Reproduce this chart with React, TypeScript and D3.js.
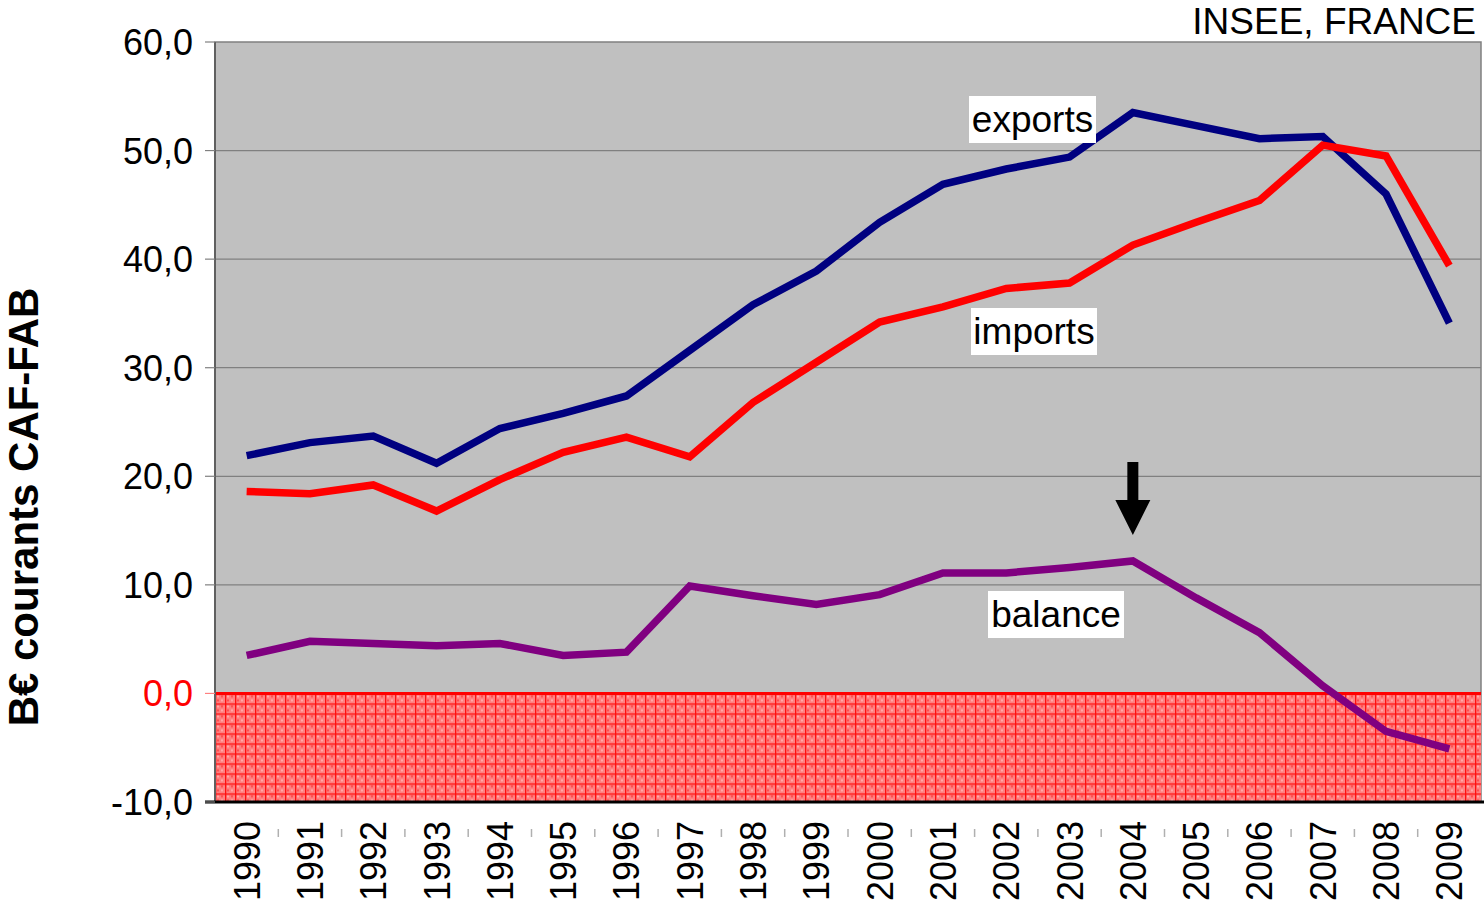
import React from "react";
import * as d3 from "d3";

const years = ["1990","1991","1992","1993","1994","1995","1996","1997","1998","1999","2000","2001","2002","2003","2004","2005","2006","2007","2008","2009"];
const exportsVals = [21.9,23.1,23.7,21.2,24.4,25.8,27.4,31.6,35.8,38.9,43.4,46.9,48.3,49.4,53.5,52.3,51.1,51.3,46.0,34.1];
const importsVals = [18.6,18.4,19.2,16.8,19.7,22.2,23.6,21.8,26.8,30.5,34.2,35.6,37.3,37.8,41.3,43.4,45.4,50.5,49.5,39.4];
const balanceVals = [3.5,4.8,4.6,4.4,4.6,3.5,3.8,9.9,9.0,8.2,9.1,11.1,11.1,11.6,12.2,8.8,5.6,0.7,-3.5,-5.1];
const yTicks = [-10,0,10,20,30,40,50,60];

const W = 1484, H = 906;
const left = 215, right = 1481, top = 42, bottom = 802;
const font = "'Liberation Sans', Arial, sans-serif";

export default function App() {
  const x = d3.scaleBand().domain(years).range([left, right]);
  const y = d3.scaleLinear().domain([-10, 60]).range([bottom, top]);
  const cx = (d: string) => (x(d) as number) + x.bandwidth() / 2;
  const line = d3.line<number>().x((_, i) => cx(years[i])).y((v) => y(v));
  const fmt = (v: number) => v.toFixed(1).replace(".", ",");

  const series = [
    { vals: exportsVals, color: "#000080" },
    { vals: importsVals, color: "#ff0000" },
    { vals: balanceVals, color: "#800080" },
  ];

  const arrowX = cx("2004");

  return (
    <svg width={W} height={H} style={{ position: "absolute", left: 0, top: 0 }} fontFamily={font}>
      <defs>
        <pattern id="hatch" width="10" height="10" patternUnits="userSpaceOnUse" x={left} y={y(0)}>
          <rect width="10" height="10" fill="#ff8080" />
          <rect x="2" y="2" width="2" height="2" fill="#ffa8a8" />
          <rect x="6" y="6" width="2" height="2" fill="#ffa8a8" />
          <rect x="6" y="2" width="2" height="2" fill="#ff5050" />
          <rect x="2" y="6" width="2" height="2" fill="#ff5050" />
          <rect x="0" y="0" width="10" height="1.3" fill="#ff1010" />
          <rect x="0" y="0" width="1.3" height="10" fill="#ff1010" />
        </pattern>
      </defs>
      <rect x={0} y={0} width={W} height={H} fill="#fff" />
      <rect x={left} y={top} width={right - left} height={bottom - top} fill="#c0c0c0" stroke="#808080" strokeWidth={1.5} />
      {yTicks.filter((t) => t > 0 && t < 60).map((t) => (
        <line key={t} x1={left} x2={right} y1={y(t)} y2={y(t)} stroke="#808080" strokeWidth={1.2} />
      ))}
      <rect x={left} y={y(0)} width={right - left} height={bottom - y(0)} fill="url(#hatch)" />
      <line x1={left} x2={right} y1={y(0)} y2={y(0)} stroke="#ff0000" strokeWidth={3} />
      <line x1={left} x2={left} y1={top} y2={bottom} stroke="#606060" strokeWidth={2} />
      <line x1={205} x2={right + 3} y1={bottom} y2={bottom} stroke="#000" strokeWidth={3} />
      {yTicks.map((t) => (
        <g key={t}>
          <line x1={205} x2={left} y1={y(t)} y2={y(t)} stroke={t === 0 ? "#ff8080" : "#808080"} strokeWidth={1.2} />
          <text x={193} y={y(t)} dy="0.36em" textAnchor="end" fontSize={36} fill={t === 0 ? "#ff0000" : "#000"}>{fmt(t)}</text>
        </g>
      ))}
      {years.slice(1).map((yr) => (
        <line key={yr} x1={x(yr)} x2={x(yr)} y1={829} y2={837} stroke="#b0b0b0" strokeWidth={1.5} />
      ))}
      {years.map((yr) => (
        <text key={yr} transform={`translate(${cx(yr) + 13},${821}) rotate(-90)`} textAnchor="end" fontSize={36} fill="#000">{yr}</text>
      ))}
      {series.map((s, i) => (
        <path key={i} d={line(s.vals) || ""} fill="none" stroke={s.color} strokeWidth={7.5} strokeLinejoin="miter" />
      ))}
      <polygon
        points={`${arrowX - 5.5},${462} ${arrowX + 5.5},${462} ${arrowX + 5.5},${500} ${arrowX + 17.5},${500} ${arrowX},${535} ${arrowX - 17.5},${500} ${arrowX - 5.5},${500}`}
        fill="#000"
      />
      {[
        { t: "exports", x: 969, y: 96, w: 127 },
        { t: "imports", x: 971, y: 308, w: 126 },
        { t: "balance", x: 988, y: 591, w: 136 },
      ].map((b) => (
        <g key={b.t}>
          <rect x={b.x} y={b.y} width={b.w} height={47} fill="#fff" />
          <text x={b.x + b.w / 2} y={b.y + 36} textAnchor="middle" fontSize={37} fill="#000">{b.t}</text>
        </g>
      ))}
      <text x={1476} y={34} textAnchor="end" fontSize={37} fill="#000">INSEE, FRANCE</text>
      <text transform={`translate(38,507) rotate(-90)`} textAnchor="middle" fontSize={42} fontWeight="bold" fill="#000">B€ courants CAF-FAB</text>
    </svg>
  );
}
